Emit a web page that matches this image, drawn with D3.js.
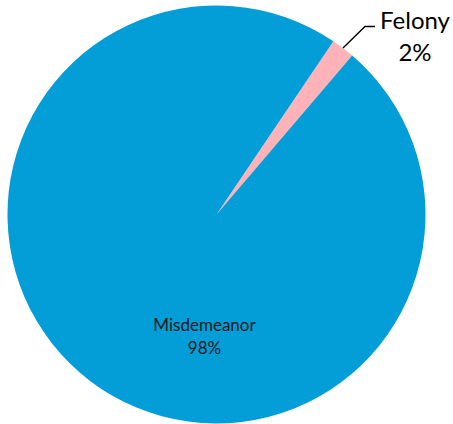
<!DOCTYPE html>
<html><head><meta charset="utf-8">
<script src="https://cdn.jsdelivr.net/npm/d3@7"></script>
<style>html,body{margin:0;padding:0;background:#fff;}svg{display:block;}</style>
</head><body>
<svg id="chart" width="453" height="424"></svg>
<script>
const categories = ["Felony", "Misdemeanor"];
const values = [1.8, 98.2];
const percentLabels = ["2%", "98%"];
const colors = ["#FFB3B8", "#039DD8"];

const svg = d3.select("#chart");
const cx = 216.5, cy = 214.5, r = 209;
const startDeg = 34;
const pie = d3.pie().sort(null).value(d => d)
  .startAngle(startDeg * Math.PI / 180)
  .endAngle(startDeg * Math.PI / 180 + 2 * Math.PI);
const arcs = pie(values);
const arc = d3.arc().innerRadius(0).outerRadius(r);
const g = svg.append("g").attr("transform", `translate(${cx},${cy})`);
g.selectAll("path").data(arcs).enter().append("path")
  .attr("d", arc).attr("fill", (d, i) => colors[i]);

// Misdemeanor label inside
g.append("text").attr("x", -12).attr("y", 116)
  .attr("text-anchor", "middle").attr("font-family", "Lato, 'Noto Sans', sans-serif")
  .attr("font-size", 17).attr("fill", "#1a1a1a")
  .selectAll("tspan").data([categories[1], percentLabels[1]]).enter().append("tspan")
  .attr("x", -12).attr("dy", (d, i) => i === 0 ? 0 : 23).text(d => d);

// Felony leader + label
const fa = arcs[0];
const ma = (fa.startAngle + fa.endAngle) / 2;
const p0 = [Math.sin(ma) * r, -Math.cos(ma) * r];
const p1 = [365 - cx, 26.5 - cy];
const p2 = [375 - cx, 26.5 - cy];
g.append("path").attr("d", d3.line()([p0, p1, p2]))
  .attr("fill", "none").attr("stroke", "#000").attr("stroke-width", 1.4);
const ft = g.append("text").attr("text-anchor", "middle")
  .attr("font-family", "Lato, 'Noto Sans', sans-serif").attr("font-size", 24).attr("fill", "#000");
ft.selectAll("tspan").data([categories[0], percentLabels[0]]).enter().append("tspan")
  .attr("x", 415 - cx).attr("y", (d, i) => (i === 0 ? 28.5 : 61) - cy).text(d => d);
</script>
</body></html>
